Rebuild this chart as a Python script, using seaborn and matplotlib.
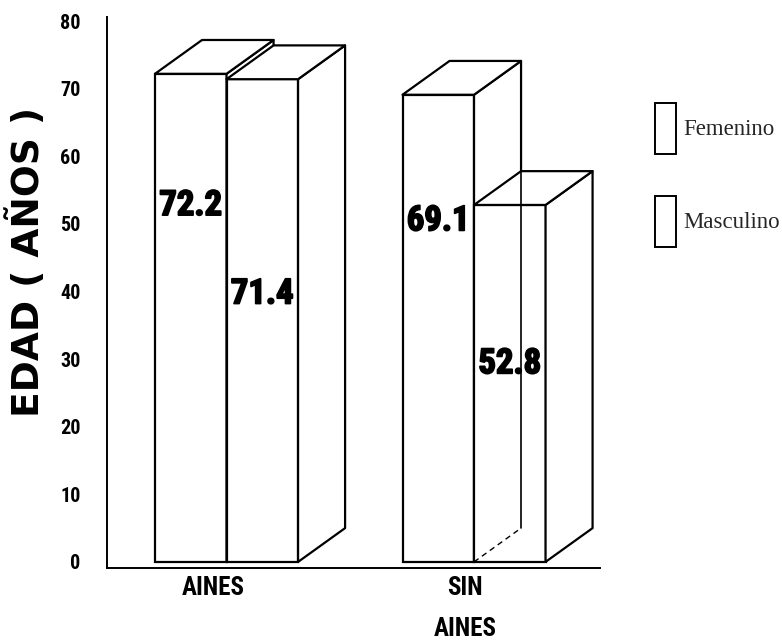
import matplotlib
matplotlib.use("Agg")
import matplotlib.pyplot as plt
import matplotlib.patheffects as pe
from matplotlib import font_manager
import seaborn as sns
import pandas as pd
from matplotlib.patches import Polygon, Patch

# Mean age by group and sex
grupos = ["AINES", "SIN\nAINES"]
sexos = ["Femenino", "Masculino"]
femenino = [72.2, 69.1]
masculino = [71.4, 52.8]
yticks = [0, 10, 20, 30, 40, 50, 60, 70, 80]


def narrow_font():
    """Pick a condensed sans face if one is installed; scale sizes otherwise."""
    entries = font_manager.fontManager.ttflist
    names = {f.name for f in entries}
    for n in ["Liberation Sans Narrow", "Arial Narrow", "Roboto Condensed",
              "Open Sans Condensed", "Nimbus Sans Narrow"]:
        if n in names:
            return {"family": n}, 1.0
    if any(f.name == "DejaVu Sans" and f.stretch == "condensed" for f in entries):
        return {"family": "DejaVu Sans", "stretch": "condensed"}, 0.9
    return {"family": "Liberation Sans"}, 0.82


num_font, k = narrow_font()

df = pd.DataFrame({
    "grupo": grupos * 2,
    "sexo": [sexos[0]] * len(grupos) + [sexos[1]] * len(grupos),
    "edad": femenino + masculino,
})

sns.set_theme(style="white")
plt.rcParams["font.family"] = [num_font["family"], "DejaVu Sans"]

fig = plt.figure(figsize=(7.82, 6.40), dpi=100)
ax = fig.add_axes([107 / 782, 72 / 640, 493 / 782, 551 / 640])

sns.barplot(data=df, x="grupo", y="edad", hue="sexo", order=grupos, hue_order=sexos,
            palette={"Femenino": "white", "Masculino": "white"}, saturation=1,
            edgecolor="black", linewidth=1.6, width=0.578, gap=0,
            errorbar=None, legend=False, ax=ax)

ax.set_xlim(-0.483, 1.509)
ax.set_ylim(-0.9, 80.6)

# pseudo-3D depth of each box (data units)
dx, dy = 0.19, 5.0
label_frac = {"Femenino": 0.73, "Masculino": 0.555}
lw = 1.6
heavy = [pe.withStroke(linewidth=1.3, foreground="black")]

for j, (sexo, cont) in enumerate(zip(sexos, ax.containers)):
    z = 2 + j
    for i, bar in enumerate(cont.patches):
        x0, w, h = bar.get_x(), bar.get_width(), bar.get_height()
        bar.set_zorder(z)
        top = Polygon([(x0, h), (x0 + dx, h + dy), (x0 + w + dx, h + dy), (x0 + w, h)],
                      closed=True, facecolor="white", edgecolor="black",
                      linewidth=lw, joinstyle="round", zorder=z)
        side = Polygon([(x0 + w, 0), (x0 + w + dx, dy), (x0 + w + dx, h + dy), (x0 + w, h)],
                       closed=True, facecolor="white", edgecolor="black",
                       linewidth=lw, joinstyle="round", zorder=z)
        ax.add_patch(side)
        ax.add_patch(top)
        ax.text(x0 + w / 2, h * label_frac[sexo], f"{h:.1f}", ha="center", va="center",
                fontsize=25 * k, fontweight="bold", color="black", zorder=6,
                path_effects=heavy, **num_font)

# back edge of the second Femenino box, seen through its neighbour
fb = ax.containers[0].patches[1]
xb = fb.get_x() + fb.get_width()
ax.plot([xb + dx, xb + dx], [dy, fb.get_height() + dy], color="black", lw=1.2, zorder=5)
ax.plot([xb, xb + dx], [0, dy], color="black", lw=1.0, ls=(0, (4, 3)), zorder=5)

# axes styling
for s in ["top", "right"]:
    ax.spines[s].set_visible(False)
for s in ["left", "bottom"]:
    ax.spines[s].set_color("black")
    ax.spines[s].set_linewidth(1.4)

ax.set_yticks(yticks)
ax.set_yticklabels([str(t) for t in yticks], fontsize=14.5 * k, fontweight="bold",
                   **num_font)
ax.set_xticks([-0.055, 0.964], labels=grupos)
for t in ax.get_xticklabels():
    t.set_fontproperties(font_manager.FontProperties(size=18 * k, weight="bold", **num_font))
    t.set_linespacing(1.9)
ax.tick_params(axis="y", length=0, pad=19, colors="black")
ax.tick_params(axis="x", length=0, pad=6, colors="black")
ax.set_xlabel("")
ax.set_ylabel("EDAD ( AÑOS )", fontsize=27, fontweight="bold", color="black",
              family="DejaVu Sans")
ax.yaxis.set_label_coords(-0.122, 0.555)

handles = [Patch(facecolor="white", edgecolor="black", linewidth=1.4) for _ in sexos]
ax.legend(handles, sexos, loc="upper left", bbox_to_anchor=(655 / 782, 1 - 103 / 640),
          bbox_transform=fig.transFigure, frameon=False, borderpad=0, borderaxespad=0,
          handlelength=0.9, handleheight=3.08, labelspacing=1.8, handletextpad=0.35,
          prop={"family": "Liberation Serif", "size": 16.5})

fig.savefig("out.png", dpi=100, facecolor="white")
